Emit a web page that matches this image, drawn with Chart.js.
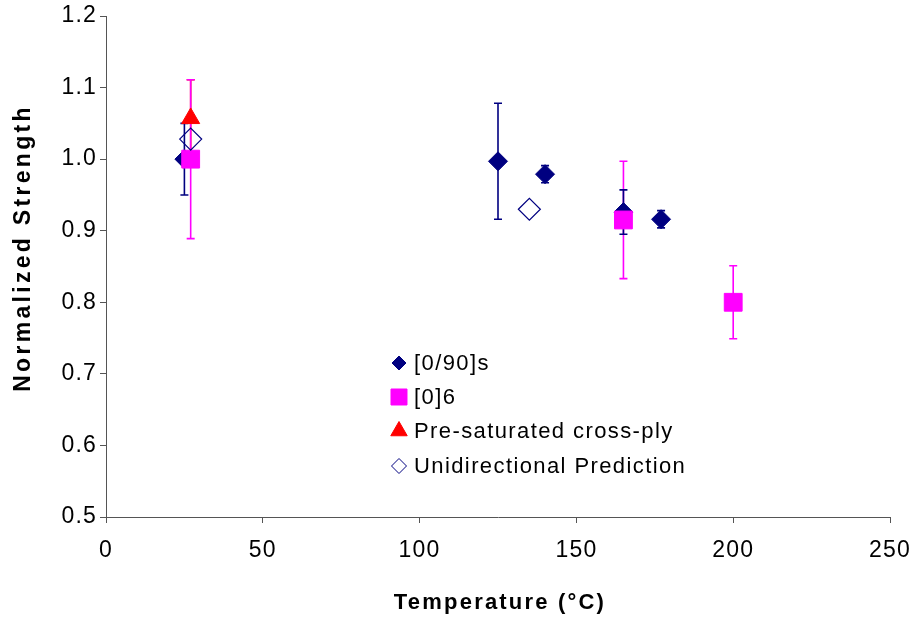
<!DOCTYPE html>
<html>
<head>
<meta charset="utf-8">
<script src="https://cdn.jsdelivr.net/npm/chart.js"></script>
<style>
  body { margin: 0; background: #fff; }
  canvas { display: block; }
</style>
</head>
<body>
<canvas id="strengthChart" width="915" height="619"></canvas>
<script>
// [0/90]s cross-ply
const temps090 = [25, 125, 140, 165, 177];
const strength090 = [1.0, 0.997, 0.979, 0.926, 0.916];
const err090 = [0.05, 0.081, 0.012, 0.031, 0.012];

// [0]6 unidirectional
const temps06 = [27, 165, 200];
const strength06 = [1.0, 0.915, 0.8];
const err06 = [0.111, 0.082, 0.051];

// pre-saturated cross-ply
const tempsSat = [27];
const strengthSat = [1.057];
const errSat = [0.054];

// unidirectional prediction
const tempsPred = [27, 135];
const strengthPred = [1.028, 0.93];

const xTickValues = [0, 50, 100, 150, 200, 250];
const yTickValues = [0.5, 0.6, 0.7, 0.8, 0.9, 1.0, 1.1, 1.2];

const seriesNames = ['[0/90]s', '[0]6', 'Pre-saturated cross-ply', 'Unidirectional Prediction'];

const FONT = "'Liberation Sans', Arial, sans-serif";

function toPoints(xs, ys) {
  return xs.map((x, i) => ({ x: x, y: ys[i] }));
}

// vertical error bars, drawn under the markers
const errorBars = {
  id: 'errorBars',
  beforeDatasetsDraw(chart) {
    const ctx = chart.ctx;
    const xs = chart.scales.x;
    const ys = chart.scales.y;
    ctx.save();
    chart.data.datasets.forEach(ds => {
      if (!ds.errors) return;
      ctx.strokeStyle = ds.borderColor;
      ctx.lineWidth = 1.6;
      ds.data.forEach((p, i) => {
        const e = ds.errors[i];
        const px = xs.getPixelForValue(p.x);
        const top = ys.getPixelForValue(p.y + e);
        const bot = ys.getPixelForValue(p.y - e);
        ctx.beginPath();
        ctx.moveTo(px, top);
        ctx.lineTo(px, bot);
        ctx.moveTo(px - 4, top);
        ctx.lineTo(px + 4, top);
        ctx.moveTo(px - 4, bot);
        ctx.lineTo(px + 4, bot);
        ctx.stroke();
      });
    });
    ctx.restore();
  }
};

// letter spacing for the tick labels
const spacing = {
  id: 'spacing',
  beforeDraw(chart) {
    chart.ctx.letterSpacing = '1.2px';
  }
};

// axis titles and the legend box inside the plot
const labels = {
  id: 'labels',
  afterDraw(chart) {
    const ctx = chart.ctx;
    const area = chart.chartArea;
    ctx.save();
    ctx.fillStyle = '#000';

    ctx.font = 'bold 22px ' + FONT;
    ctx.letterSpacing = '2.2px';
    ctx.textAlign = 'center';
    ctx.textBaseline = 'alphabetic';
    ctx.fillText('Temperature (°C)', (area.left + area.right) / 2 + 2, 609);

    ctx.save();
    ctx.translate(30, 248);
    ctx.rotate(-Math.PI / 2);
    ctx.font = 'bold 23px ' + FONT;
    ctx.letterSpacing = '3.3px';
    ctx.fillText('Normalized Strength', 0, 0);
    ctx.restore();

    const markers = [
      { pointStyle: 'rectRot', radius: 7, fill: '#000080', stroke: '#000080' },
      { pointStyle: 'rect', radius: 11.3, fill: '#FF00FF', stroke: '#FF00FF' },
      { pointStyle: 'triangle', radius: 9.5, fill: '#FF0000', stroke: '#FF0000' },
      { pointStyle: 'rectRot', radius: 7.5, fill: 'rgba(0,0,0,0)', stroke: '#000080' }
    ];
    const rows = [363, 397, 431, 466];
    ctx.font = '22px ' + FONT;
    ctx.letterSpacing = '1.4px';
    ctx.textAlign = 'left';
    ctx.textBaseline = 'middle';
    seriesNames.forEach((name, i) => {
      const m = markers[i];
      ctx.fillStyle = m.fill;
      ctx.strokeStyle = m.stroke;
      Chart.helpers.drawPoint(ctx, { pointStyle: m.pointStyle, radius: m.radius, rotation: 0, borderWidth: 1 }, 399, rows[i]);
      ctx.fillStyle = '#000';
      ctx.fillText(name, 414, rows[i] + 1);
    });
    ctx.restore();
  }
};

const ctx = document.getElementById('strengthChart').getContext('2d');

new Chart(ctx, {
  type: 'scatter',
  data: {
    datasets: [
      {
        label: seriesNames[3],
        data: toPoints(tempsPred, strengthPred),
        pointStyle: 'rectRot',
        pointRadius: 11,
        backgroundColor: 'rgba(0,0,0,0)',
        borderColor: '#000080',
        pointBorderWidth: 1.2,
        order: 1
      },
      {
        label: seriesNames[2],
        data: toPoints(tempsSat, strengthSat),
        errors: errSat,
        pointStyle: 'triangle',
        pointRadius: 10.4,
        backgroundColor: '#FF0000',
        borderColor: '#FF0000',
        pointBorderWidth: 1,
        order: 2
      },
      {
        label: seriesNames[1],
        data: toPoints(temps06, strength06),
        errors: err06,
        pointStyle: 'rect',
        pointRadius: 12.6,
        backgroundColor: '#FF00FF',
        borderColor: '#FF00FF',
        pointBorderWidth: 1,
        order: 3
      },
      {
        label: seriesNames[0],
        data: toPoints(temps090, strength090),
        errors: err090,
        pointStyle: 'rectRot',
        pointRadius: 9.5,
        backgroundColor: '#000080',
        borderColor: '#000080',
        pointBorderWidth: 1,
        order: 4
      }
    ]
  },
  options: {
    responsive: false,
    animation: false,
    events: [],
    layout: {
      padding: { left: 0, right: 25, top: 16, bottom: 0 }
    },
    plugins: {
      legend: { display: false },
      tooltip: { enabled: false }
    },
    scales: {
      x: {
        type: 'linear',
        min: 0,
        max: 250,
        afterBuildTicks: axis => { axis.ticks = xTickValues.map(v => ({ value: v })); },
        afterFit: axis => {
          axis.height = 102;
          axis.paddingLeft = 0;
          axis.paddingRight = 0;
        },
        grid: { drawOnChartArea: false, drawTicks: true, tickLength: 6, color: '#555' },
        border: { color: '#555', width: 1 },
        ticks: {
          color: '#000',
          padding: 14,
          maxRotation: 0,
          font: { family: FONT, size: 23 },
          callback: v => String(v)
        }
      },
      y: {
        type: 'linear',
        min: 0.5,
        max: 1.2,
        afterBuildTicks: axis => { axis.ticks = yTickValues.map(v => ({ value: v })); },
        afterFit: axis => {
          axis.width = 106;
          axis.paddingTop = 0;
          axis.paddingBottom = 0;
        },
        grid: { drawOnChartArea: false, drawTicks: true, tickLength: 6, color: '#555' },
        border: { color: '#555', width: 1 },
        ticks: {
          color: '#000',
          padding: 3,
          font: { family: FONT, size: 23 },
          callback: v => v.toFixed(1)
        }
      }
    }
  },
  plugins: [spacing, errorBars, labels]
});
</script>
</body>
</html>
